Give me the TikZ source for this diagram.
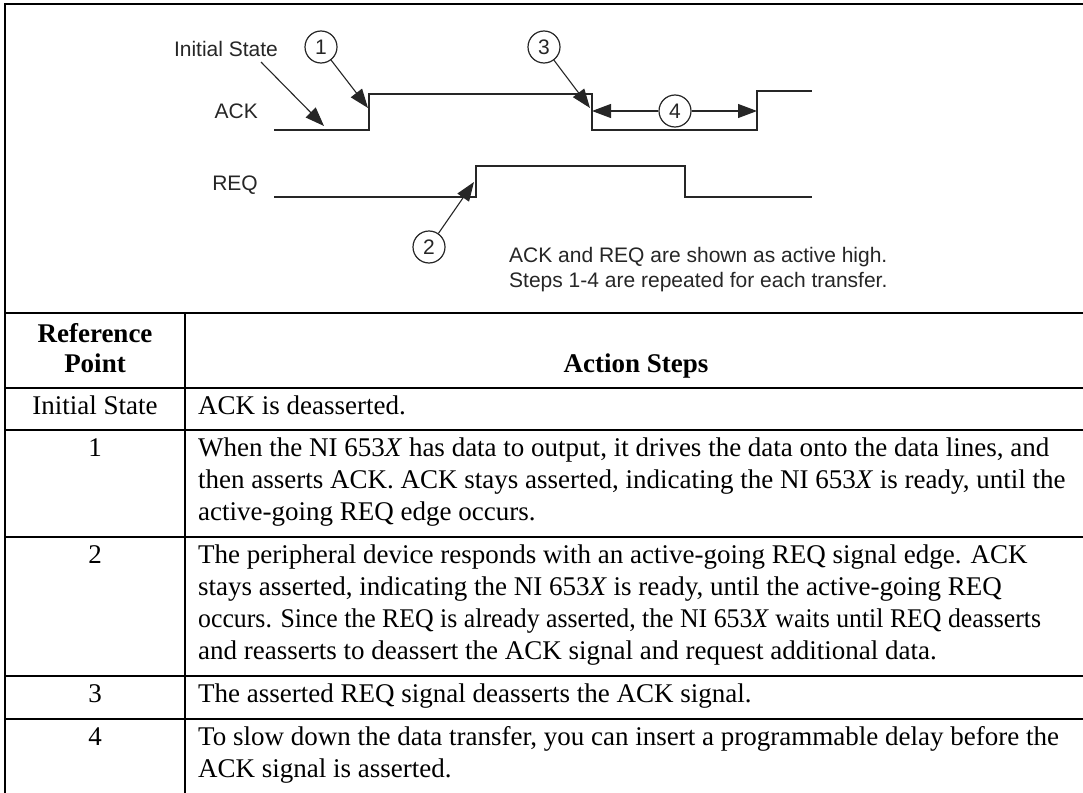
\documentclass[tikz,border=0pt]{standalone}
\usepackage{fontspec}
\setmainfont{Liberation Serif}
\setsansfont{Liberation Sans}
\usetikzlibrary{arrows.meta}
\begin{document}
\begin{tikzpicture}[x=1pt,y=-1pt,
  sig/.style={line width=1.3pt, draw=black!85},
  rulel/.style={line width=2pt, draw=black},
  lbl/.style={font=\sffamily\fontsize{21}{25}\selectfont, text=black!85, inner sep=0pt},
  num/.style={circle, draw=black!85, line width=1.2pt, minimum size=32pt, inner sep=0pt, font=\sffamily\fontsize{21}{25}\selectfont, text=black!85},
  pointer/.style={line width=1.1pt, draw=black!85, -{Triangle[length=19pt,width=14pt]}},
  cell/.style={font=\fontsize{27}{32}\selectfont, inner sep=0pt, anchor=base west},
  ccell/.style={font=\fontsize{27}{32}\selectfont, inner sep=0pt, anchor=base},
  hcell/.style={font=\bfseries\fontsize{27}{32}\selectfont, inner sep=0pt, anchor=base},
]
\useasboundingbox (0,0) rectangle (1083,792);
\clip (0,0) rectangle (1083,792);

% outer frame and table rules
\draw[rulel] (5,800) -- (5,4) -- (1095,4);
\foreach \yy in {313,388,430,537,676,719}
  \draw[rulel] (5,\yy) -- (1095,\yy);
\draw[rulel] (185,313) -- (185,800);

% timing diagram labels
\node[lbl, anchor=east] (ackl) at (258,111) {ACK};
\node[lbl, anchor=east] (reql) at (258,185) {REQ};
\node[lbl] (init) at (226,49) {Initial State};
\node[num] (c1) at (321,47) {1};
\node[num] (c2) at (429,247) {2};
\node[num] (c3) at (544,47) {3};
\node[num] (c4) at (675,111) {4};
\node[lbl, anchor=base west] (n1) at (509,262) {ACK and REQ are shown as active high.};
\node[lbl, anchor=base west] (n2) at (509,287) {Steps 1-4 are repeated for each transfer.};

% waveforms
\draw[sig] (274,130) -- (369,130) -- (369,94) -- (592,94) -- (592,130) -- (757,130) -- (757,91) -- (812,91);
\draw[sig] (274,197) -- (476,197) -- (476,166) -- (685,166) -- (685,197) -- (812,197);

% pointers
\coordinate (s0) at (261,62);
\coordinate (t0) at (324,126);
\coordinate (t1) at (368,108);
\coordinate (t2) at (474,182);
\coordinate (t3) at (590,108);
\coordinate (t4l) at (592,111);
\coordinate (t4r) at (757,111);
\draw[pointer] (s0) -- (t0);
\draw[pointer] (c1) -- (t1);
\draw[pointer] (c2) -- (t2);
\draw[pointer] (c3) -- (t3);
\draw[pointer] (c4) -- (t4l);
\draw[pointer] (c4) -- (t4r);

% table header
\node[hcell] (h1) at (95,342) {Reference};
\node[hcell] (h2) at (95,372) {Point};
\node[hcell] (h3) at (636,372) {Action Steps};

% rows
\node[ccell] (k0) at (95,414) {Initial State};
\node[cell] (r0) at (198,414) {ACK is deasserted.};

\node[ccell] (k1) at (95,456) {1};
\node[cell] (r1a) at (198,456) {When the NI 653\textit{X} has data to output, it drives the data onto the data lines, and};
\node[cell] (r1b) at (198,488) {then asserts ACK. ACK stays asserted, indicating the NI 653\textit{X} is ready, until the};
\node[cell] (r1c) at (198,520) {active-going REQ edge occurs.};

\node[ccell] (k2) at (95,563) {2};
\node[cell] (r2a) at (198,563) {The peripheral device responds with an active-going REQ signal edge. ACK};
\node[cell] (r2b) at (198,595) {stays asserted, indicating the NI 653\textit{X} is ready, until the active-going REQ};
\node[cell] (r2c) at (198,627) {\scalebox{0.955}[1]{occurs. Since the REQ is already asserted, the NI 653\textit{X} waits until REQ deasserts}};
\node[cell] (r2d) at (198,659) {and reasserts to deassert the ACK signal and request additional data.};

\node[ccell] (k3) at (95,702) {3};
\node[cell] (r3) at (198,702) {The asserted REQ signal deasserts the ACK signal.};

\node[ccell] (k4) at (95,745) {4};
\node[cell] (r4a) at (198,745) {To slow down the data transfer, you can insert a programmable delay before the};
\node[cell] (r4b) at (198,777) {ACK signal is asserted.};
\end{tikzpicture}
\end{document}
